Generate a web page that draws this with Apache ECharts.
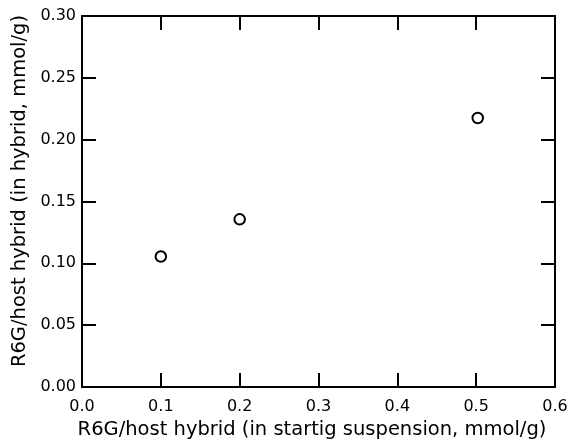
<!DOCTYPE html>
<html><head><meta charset="utf-8">
<script src="https://cdn.jsdelivr.net/npm/echarts@6/dist/echarts.min.js"></script>
<style>html,body{margin:0;padding:0;background:#fff}#c{width:571px;height:445px}</style>
</head><body><div id="c"></div>
<script>
const xValues = [0.1, 0.2, 0.502];
const yValues = [0.1055, 0.1356, 0.2175];
const xTitle = 'R6G/host hybrid (in startig suspension, mmol/g)';
const yTitle = 'R6G/host hybrid (in hybrid, mmol/g)';
const xTicks = {min: 0, max: 0.6, interval: 0.1};
const yTicks = {min: 0, max: 0.3, interval: 0.05};

const font = 'DejaVu Sans';
const axisLine = {show: true, onZero: false, lineStyle: {color: '#000', width: 2}};
const tick = {show: true, inside: true, length: 14, lineStyle: {color: '#000', width: 2}};
const chart = echarts.init(document.getElementById('c'));
chart.setOption({
  animation: false,
  backgroundColor: '#fff',
  grid: {left: 82, right: 16, top: 16, bottom: 58, containLabel: false},
  xAxis: [{
    type: 'value', position: 'bottom', min: xTicks.min, max: xTicks.max, interval: xTicks.interval,
    axisLine, axisTick: tick, splitLine: {show: false},
    axisLabel: {color: '#000', fontFamily: font, fontSize: 16, margin: 12, formatter: v => v.toFixed(1)},
    name: xTitle, nameLocation: 'middle', nameGap: 30,
    nameTextStyle: {color: '#000', fontFamily: font, fontSize: 19.5, padding: [0, 13, 0, 0]}
  }, {
    type: 'value', position: 'top', min: xTicks.min, max: xTicks.max, interval: xTicks.interval,
    axisLine, axisTick: tick, axisLabel: {show: false}, splitLine: {show: false}
  }],
  yAxis: [{
    type: 'value', position: 'left', min: yTicks.min, max: yTicks.max, interval: yTicks.interval,
    axisLine, axisTick: tick, splitLine: {show: false},
    axisLabel: {color: '#000', fontFamily: font, fontSize: 16, margin: 6, formatter: v => v.toFixed(2)},
    name: yTitle, nameLocation: 'middle', nameGap: 44, nameRotate: 90,
    nameTextStyle: {color: '#000', fontFamily: font, fontSize: 19.5, padding: [0, 0, 0, 21]}
  }, {
    type: 'value', position: 'right', min: yTicks.min, max: yTicks.max, interval: yTicks.interval,
    axisLine, axisTick: tick, axisLabel: {show: false}, splitLine: {show: false}
  }],
  series: [{
    type: 'scatter',
    data: xValues.map((x, i) => [x, yValues[i]]),
    symbol: 'circle', symbolSize: 10.5,
    itemStyle: {color: '#fff', borderColor: '#000', borderWidth: 2, opacity: 1}
  }]
});
</script></body></html>
